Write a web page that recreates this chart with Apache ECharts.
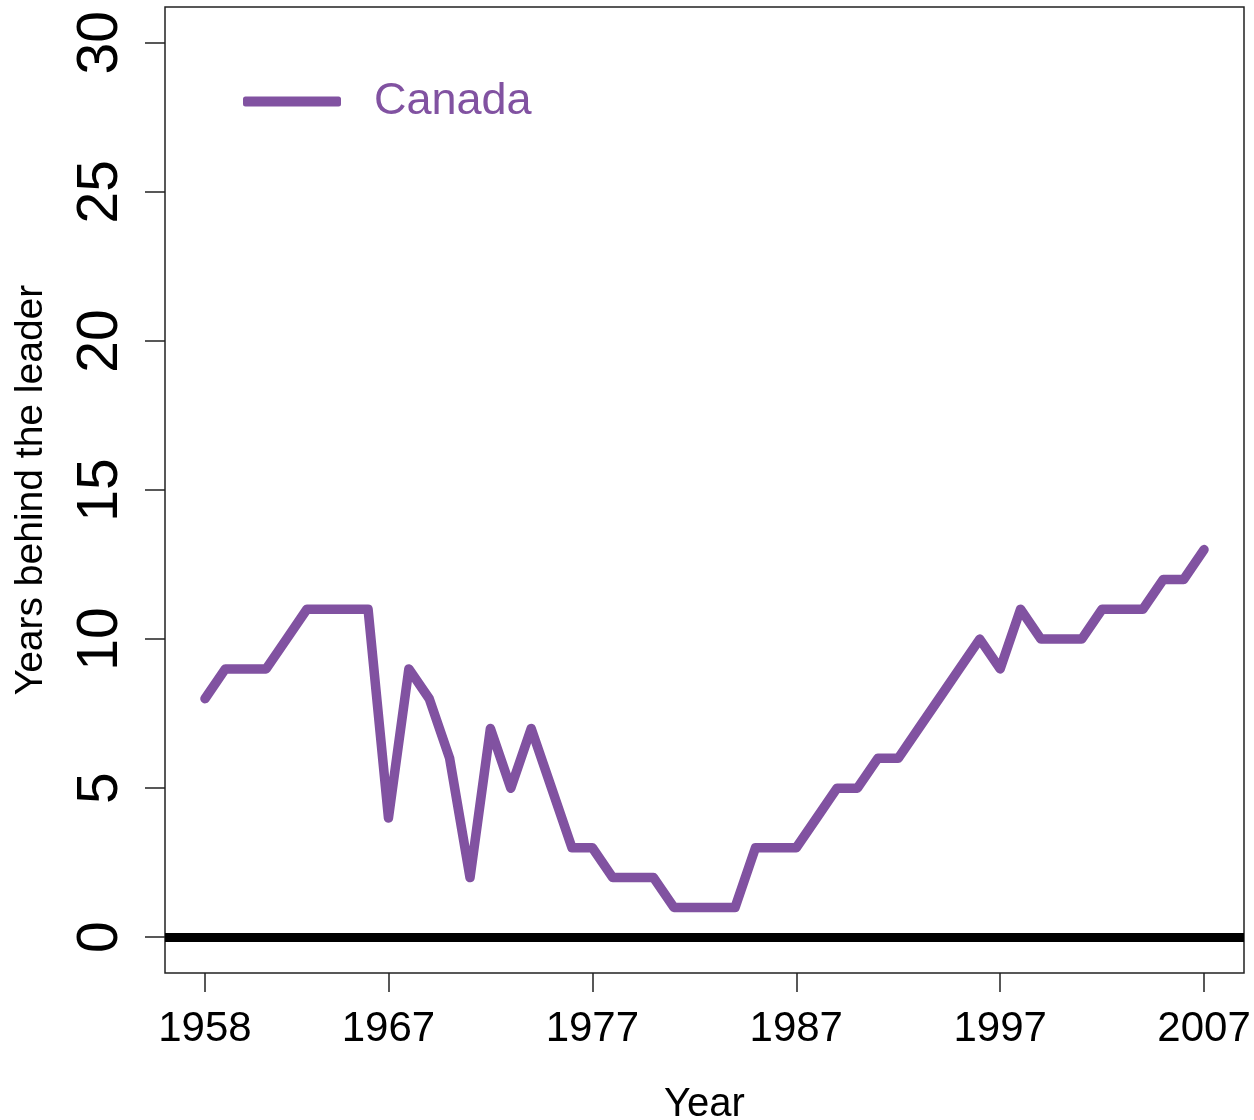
<!DOCTYPE html>
<html lang="en">
<head>
  <meta charset="UTF-8">
  <title>Years behind the leader - Canada</title>
  <style>
    body { margin: 0; background: #fff; }
    #chart { width: 1254px; height: 1120px; }
  </style>
  <script src="https://cdn.jsdelivr.net/npm/echarts@6/dist/echarts.min.js"></script>
</head>
<body>
<div id="chart"></div>
<script>
  // data
  const years = [];
  for (let y = 1958; y <= 2007; y++) years.push(y);
  const canada = [8, 9, 9, 9, 10, 11, 11, 11, 11, 4,
                  9, 8, 6, 2, 7, 5, 7, 5, 3, 3,
                  2, 2, 2, 1, 1, 1, 1, 3, 3, 3,
                  4, 5, 5, 6, 6, 7, 8, 9, 10, 9,
                  11, 10, 10, 10, 11, 11, 11, 12, 12, 13];
  const xTicks = [1958, 1967, 1977, 1987, 1997, 2007];
  const yTicks = [0, 5, 10, 15, 20, 25, 30];

  const purple = '#8152a1';
  const font = 'Liberation Sans, Arial, sans-serif';

  const chart = echarts.init(document.getElementById('chart'));
  chart.setOption({
    animation: false,
    legend: {
      data: ['Canada'],
      left: 238, top: 74,
      itemWidth: 98, itemHeight: 10, itemGap: 10,
      icon: 'roundRect',
      textStyle: { color: purple, fontSize: 45, fontFamily: font, padding: [0, 0, 0, 28] }
    },
    grid: {
      left: 165, right: 10, top: 7, bottom: 147,
      containLabel: false, outerBoundsMode: 'none',
      show: true, borderColor: '#222', borderWidth: 1.5, backgroundColor: '#fff'
    },
    xAxis: {
      type: 'value',
      min: 1956.04, max: 2008.96,
      name: 'Year', nameLocation: 'middle', nameGap: 112,
      nameTextStyle: { fontSize: 40, fontFamily: font, color: '#000' },
      axisLine: { show: false, onZero: false },
      axisTick: { show: true, customValues: xTicks, length: 19, lineStyle: { color: '#222', width: 1.5 } },
      axisLabel: {
        customValues: xTicks, fontSize: 42, fontFamily: font, color: '#000', margin: 35,
        formatter: v => String(v)
      },
      splitLine: { show: false }
    },
    yAxis: {
      type: 'value',
      min: -1.2, max: 31.2,
      name: 'Years behind the leader', nameLocation: 'middle', nameGap: 114, nameRotate: 90,
      nameTextStyle: { fontSize: 39, fontFamily: font, color: '#000' },
      axisLine: { show: false, onZero: false },
      axisTick: { show: true, customValues: yTicks, length: 20, lineStyle: { color: '#222', width: 1.5 } },
      axisLabel: { customValues: yTicks, rotate: 90, fontSize: 57, fontFamily: font, color: '#000', margin: 35 },
      splitLine: { show: false }
    },
    series: [{
      name: 'Canada',
      type: 'line',
      data: years.map((y, i) => [y, canada[i]]),
      symbol: 'none',
      color: purple,
      lineStyle: { width: 9.5, color: purple, cap: 'round', join: 'round' },
      markLine: {
        silent: true,
        symbol: 'none',
        label: { show: false },
        lineStyle: { color: '#000', width: 9, type: 'solid' },
        data: [{ yAxis: 0 }]
      }
    }]
  });
</script>
</body>
</html>
